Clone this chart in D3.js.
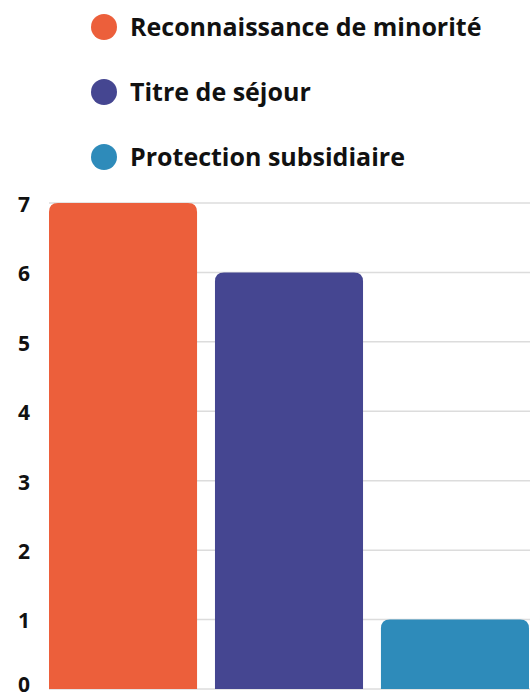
<!DOCTYPE html>
<html>
<head>
<meta charset="utf-8">
<script src="https://cdn.jsdelivr.net/npm/d3@7"></script>
<style>
  html, body { margin: 0; padding: 0; background: #fff; overflow: hidden; }
  svg { display: block; font-family: "Open Sans", sans-serif; }
</style>
</head>
<body>
<svg id="chart" width="530" height="697"></svg>
<script>
var categories = ["Reconnaissance de minorité", "Titre de séjour", "Protection subsidiaire"];
var values = [7, 6, 1];
var colors = ["#ec5f3b", "#454691", "#2e8bba"];
var yTicks = [0, 1, 2, 3, 4, 5, 6, 7];

var svg = d3.select("#chart");

// legend
var legend = svg.append("g");
categories.forEach(function (c, i) {
  var row = legend.append("g").attr("transform", "translate(104," + (27 + i * 65) + ")");
  row.append("circle").attr("r", 13).attr("fill", colors[i]);
  row.append("text")
    .attr("x", 26)
    .attr("dy", "0.35em")
    .style("font-size", "25px")
    .style("font-weight", "700")
    .style("fill", "#111")
    .text(c);
});

var x = d3.scaleBand().domain(categories).range([49, 529]).paddingInner(0.108).paddingOuter(0);
var y = d3.scaleLinear().domain([0, 7]).range([689, 203]);

// gridlines
svg.append("g").selectAll("line").data(yTicks).join("line")
  .attr("x1", 49).attr("x2", 530)
  .attr("y1", function (d) { return y(d); })
  .attr("y2", function (d) { return y(d); })
  .attr("stroke", "#dcdcdc")
  .attr("stroke-width", 1.5);

// y axis labels (the 0 is nudged up so it stays inside the page)
var yAxis = svg.append("g").attr("transform", "translate(30,0)")
  .call(d3.axisLeft(y).tickValues(yTicks).tickSize(0).tickPadding(0).tickFormat(d3.format("d")));
yAxis.select(".domain").remove();
yAxis.selectAll("text")
  .attr("dy", function (d) { return d === 0 ? "0.1em" : "0.4em"; })
  .style("font-family", "'Open Sans', sans-serif")
  .style("font-size", "21px")
  .style("font-weight", "700")
  .style("fill", "#111");

// bars with rounded top corners
function topRounded(x0, y0, w, h, r) {
  r = Math.min(r, h, w / 2);
  return "M" + x0 + "," + (y0 + h) +
    "V" + (y0 + r) +
    "Q" + x0 + "," + y0 + " " + (x0 + r) + "," + y0 +
    "H" + (x0 + w - r) +
    "Q" + (x0 + w) + "," + y0 + " " + (x0 + w) + "," + (y0 + r) +
    "V" + (y0 + h) + "Z";
}

svg.append("g").selectAll("path").data(values).join("path")
  .attr("d", function (d, i) {
    var c = categories[i];
    return topRounded(x(c), y(d), x.bandwidth(), y(0) - y(d), 9);
  })
  .attr("fill", function (d, i) { return colors[i]; });
</script>
</body>
</html>
